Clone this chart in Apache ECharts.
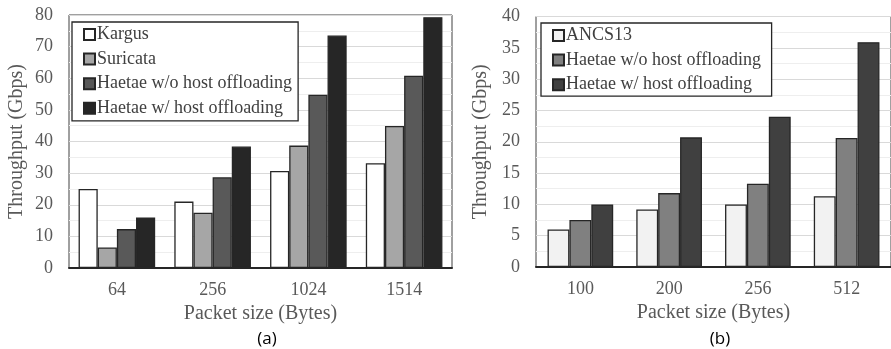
<!DOCTYPE html>
<html>
<head>
<meta charset="utf-8">
<script src="https://cdn.jsdelivr.net/npm/echarts@6/dist/echarts.min.js"></script>
<style>
  html, body { margin: 0; padding: 0; background: #fff; }
  #main { width: 891px; height: 349px; }
</style>
</head>
<body>
<div id="main"></div>
<script>
var chartDom = document.getElementById("main");
var myChart = echarts.init(chartDom);
var option;

// (a) left panel
const sizesA = ["64", "256", "1024", "1514"];
const kargus = [25.0, 21.0, 30.7, 33.1];
const suricata = [6.5, 17.5, 38.7, 44.9];
const haetaeNoHostA = [12.3, 28.7, 54.8, 60.8];
const haetaeHostA = [16.0, 38.4, 73.5, 79.3];

// (b) right panel
const sizesB = ["100", "200", "256", "512"];
const ancs13 = [6.0, 9.2, 10.0, 11.3];
const haetaeNoHostB = [7.5, 11.8, 13.3, 20.6];
const haetaeHostB = [10.0, 20.7, 24.0, 35.9];

const serif = "Liberation Serif";
const border = "#262626";

function yAxis(grid, max, interval, gap) {
  return {
    type: "value",
    gridIndex: grid,
    min: 0,
    max: max,
    interval: interval,
    name: "Throughput (Gbps)",
    nameLocation: "middle",
    nameGap: gap,
    nameTextStyle: { fontFamily: serif, fontSize: 20, color: "#595959" },
    axisLine: { show: false },
    axisTick: { show: false },
    axisLabel: { fontFamily: serif, fontSize: 18, color: "#595959", margin: 16 },
    splitLine: { show: true, lineStyle: { color: "#d9d9d9", width: 1 } },
    minorTick: { show: false, splitNumber: 2 },
    minorSplitLine: { show: true, lineStyle: { color: "#eeeeee", width: 1 } }
  };
}

function xAxis(grid, cats) {
  return {
    type: "category",
    gridIndex: grid,
    data: cats,
    name: "Packet size (Bytes)",
    nameLocation: "middle",
    nameGap: 35,
    nameTextStyle: { fontFamily: serif, fontSize: 20, color: "#595959" },
    axisLine: { show: true, lineStyle: { color: "#262626", width: 2 } },
    axisTick: { show: false },
    axisLabel: { fontFamily: serif, fontSize: 18, color: "#595959", margin: 13 }
  };
}

function bar(name, data, color, idx, gap) {
  return {
    name: name,
    type: "bar",
    xAxisIndex: idx,
    yAxisIndex: idx,
    data: data,
    barGap: "0%",
    barCategoryGap: gap,
    itemStyle: { color: color, borderColor: border, borderWidth: 1.3 }
  };
}

function legend(names, left, top, pad) {
  return {
    orient: "vertical",
    left: left,
    top: top,
    data: names,
    icon: "rect",
    itemWidth: 11,
    itemHeight: 11,
    itemGap: 5.6,
    padding: pad,
    backgroundColor: "#fff",
    borderColor: "#262626",
    borderWidth: 1.3,
    selectedMode: false,
    textStyle: { fontFamily: serif, fontSize: 18, color: "#404040", lineHeight: 19, padding: [0, 0, 0, -3] }
  };
}

option = {
  animation: false,
  backgroundColor: "#fff",
  textStyle: { fontFamily: serif },
  grid: [
    { left: 69, top: 15, right: 439, bottom: 81, show: true, borderColor: "#404040", borderWidth: 1 },
    { left: 536, top: 16.5, right: -14, bottom: 82, show: true, borderColor: "#404040", borderWidth: 1 }
  ],
  xAxis: [xAxis(0, sizesA), xAxis(1, sizesB)],
  yAxis: [yAxis(0, 80, 10, 42), yAxis(1, 40, 5, 45.5)],
  legend: [
    legend(["Kargus", "Suricata", "Haetae w/o host offloading", "Haetae w/ host offloading"], 72, 22, [3, 6, 3, 11]),
    legend(["ANCS13", "Haetae w/o host offloading ", "Haetae w/ host offloading "], 541, 23, [3, 6, 2, 11])
  ],
  graphic: [
    { type: "text", x: 267, y: 339, style: { text: "(a)", font: "17px 'Open Sans'", fill: "#000", align: "center", verticalAlign: "middle" } },
    { type: "text", x: 720, y: 339, style: { text: "(b)", font: "17px 'Open Sans'", fill: "#000", align: "center", verticalAlign: "middle" } }
  ],
  series: [
    bar("Kargus", kargus, "#ffffff", 0, "20%"),
    bar("Suricata", suricata, "#a6a6a6", 0, "20%"),
    bar("Haetae w/o host offloading", haetaeNoHostA, "#595959", 0, "20%"),
    bar("Haetae w/ host offloading", haetaeHostA, "#262626", 0, "20%"),
    bar("ANCS13", ancs13, "#f2f2f2", 1, "26%"),
    bar("Haetae w/o host offloading ", haetaeNoHostB, "#808080", 1, "26%"),
    bar("Haetae w/ host offloading ", haetaeHostB, "#404040", 1, "26%")
  ]
};

option && myChart.setOption(option);
</script>
</body>
</html>
